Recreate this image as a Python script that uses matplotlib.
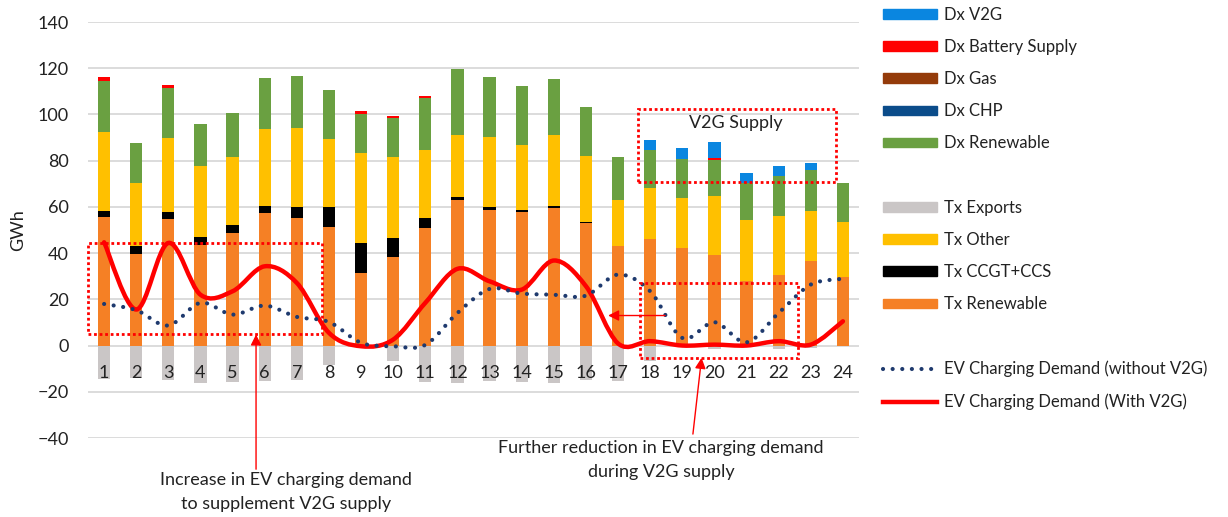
import matplotlib
matplotlib.use("Agg")
import matplotlib.pyplot as plt
from matplotlib.path import Path
from matplotlib.patches import PathPatch, Patch, Rectangle
from matplotlib.lines import Line2D
import numpy as np

plt.rcParams['font.family'] = ['Lato', 'DejaVu Sans']

hours = list(range(1, 25))

tx_renewable = [55.5, 39.7, 54.8, 43.4, 48.9, 57.2, 55.2, 51.5, 31.2, 38.4, 50.9, 62.8,
                58.7, 58.0, 59.4, 53.1, 42.9, 46.0, 42.3, 39.1, 27.8, 30.4, 36.5, 29.6]
tx_ccgt = [2.9, 3.3, 3.0, 3.5, 3.3, 3.4, 4.9, 8.6, 13.1, 8.2, 4.1, 1.4,
           1.3, 0.7, 0.9, 0.3, 0, 0, 0, 0, 0, 0, 0, 0]
tx_other = [33.8, 27.3, 31.9, 30.8, 29.3, 33.3, 33.9, 29.2, 39.2, 34.8, 29.7, 27.1,
            30.3, 27.9, 30.8, 28.8, 20.2, 22.1, 21.6, 25.8, 26.7, 25.6, 21.9, 23.9]
tx_exports = [-14.4, -14.0, -15.0, -16.2, -15.9, -15.2, -14.7, -8.2, 0, -6.8, -15.9, -16.2,
              -15.2, -15.9, -16.2, -14.7, -15.2, -6.5, 0, -1.7, 0, -1.7, -1.2, 0]
dx_renewable = [22.4, 17.4, 21.6, 18.2, 19.3, 22.0, 22.6, 21.3, 16.5, 16.9, 22.4, 28.2,
                25.7, 25.7, 24.4, 21.1, 18.4, 16.6, 16.8, 15.2, 15.9, 17.2, 17.4, 16.8]
dx_chp = [0] * 24
dx_gas = [0] * 24
dx_battery = [1.7, 0, 1.3, 0, 0, 0, 0, 0, 1.4, 1.0, 1.1, 0,
              0, 0, 0, 0, 0, 0, 0, 0.9, 0, 0, 0, 0]
dx_v2g = [0, 0, 0, 0, 0, 0, 0, 0, 0, 0, 0, 0,
          0, 0, 0, 0, 0, 4.3, 5.0, 6.9, 4.1, 4.4, 3.1, 0]

ev_without_v2g = [18.0, 15.3, 8.7, 18.5, 13.4, 17.3, 12.4, 10.2, 1.2, -0.3, 0.3, 14.1,
                  24.5, 22.5, 22.0, 21.6, 30.7, 23.5, 3.3, 10.1, 1.4, 14.1, 26.4, 28.9]
ev_with_v2g = [44.7, 15.6, 44.4, 22.0, 23.5, 34.3, 27.1, 5.5, -0.3, 2.6, 18.5, 33.2,
               27.8, 24.2, 36.8, 25.7, 0.9, 1.9, 0.0, 0.4, 0.0, 1.9, 0.4, 10.5]

c_txren = '#F58025'
c_ccgt = '#000000'
c_other = '#FFC000'
c_exp = '#CAC6C6'
c_dxren = '#6AA041'
c_chp = '#0B4C8A'
c_gas = '#943B0A'
c_bat = '#FF0000'
c_v2g = '#0A86E0'
c_dot = '#1F3A6E'
c_red = '#FF0000'
c_txt = '#222222'


def smooth_path(xs, ys):
    # excel style smoothed line, catmull-rom segments as bezier curves
    pts = list(zip(xs, ys))
    verts = [pts[0]]
    codes = [Path.MOVETO]
    n = len(pts)
    for i in range(n - 1):
        p0 = pts[i - 1] if i > 0 else pts[i]
        p1 = pts[i]
        p2 = pts[i + 1]
        p3 = pts[i + 2] if i + 2 < n else pts[i + 1]
        c1 = (p1[0] + (p2[0] - p0[0]) / 6.0, p1[1] + (p2[1] - p0[1]) / 6.0)
        c2 = (p2[0] - (p3[0] - p1[0]) / 6.0, p2[1] - (p3[1] - p1[1]) / 6.0)
        verts += [c1, c2, p2]
        codes += [Path.CURVE4] * 3
    return Path(verts, codes)


fig = plt.figure(figsize=(12.28, 5.17), dpi=100)
ax = fig.add_axes([0.0717, 0.1528, 0.6278, 0.8046])

w = 0.38
x = np.array(hours)
bottom = np.zeros(24)
for vals, col in [(tx_renewable, c_txren), (tx_ccgt, c_ccgt), (tx_other, c_other),
                  (dx_renewable, c_dxren), (dx_chp, c_chp), (dx_gas, c_gas),
                  (dx_battery, c_bat), (dx_v2g, c_v2g)]:
    ax.bar(x, vals, w, bottom=bottom, color=col, zorder=2)
    bottom = bottom + np.array(vals)
ax.bar(x, tx_exports, w, color=c_exp, zorder=2)

p1 = PathPatch(smooth_path(hours, ev_without_v2g), fill=False, edgecolor=c_dot, lw=3,
               linestyle=(0, (0.01, 2.3)), capstyle='round', zorder=4)
ax.add_patch(p1)
p2 = PathPatch(smooth_path(hours, ev_with_v2g), fill=False, edgecolor=c_red, lw=3.2,
               capstyle='round', zorder=3)
ax.add_patch(p2)

# dotted boxes
for (x0, y0, x1, y1) in [(0.5, 4.8, 7.78, 44.5), (17.61, 70.6, 23.78, 102.5), (17.68, -5.3, 22.59, 27.1)]:
    ax.add_patch(Rectangle((x0, y0), x1 - x0, y1 - y0, fill=False, edgecolor='#FF0000',
                           lw=2, linestyle=(0, (1, 1)), zorder=5, clip_on=False))
ax.text(20.67, 96.5, 'V2G Supply', ha='center', va='center', fontsize=13, color=c_txt)

arr = dict(arrowstyle='-|>', color='#FF0000', lw=1, mutation_scale=16, shrinkA=0, shrinkB=0)
ax.annotate('', xy=(16.69, 13), xytext=(18.46, 13), arrowprops=arr, zorder=6)
ax.annotate('', xy=(5.73, 4.8), xytext=(5.73, -53.5), arrowprops=arr, annotation_clip=False, zorder=6)
ax.annotate('', xy=(19.6, -5.3), xytext=(19.33, -38.3), arrowprops=arr, annotation_clip=False, zorder=6)
ax.text(6.65, -63.4, 'Increase in EV charging demand\nto supplement V2G supply', ha='center', va='center',
        fontsize=13, color=c_txt, linespacing=1.65)
ax.text(18.34, -49.5, 'Further reduction in EV charging demand\nduring V2G supply', ha='center', va='center',
        fontsize=13, color=c_txt, linespacing=1.65)

ax.set_xlim(0.5, 24.5)
ax.set_ylim(-40, 140)
ax.set_yticks(range(-40, 141, 20))
ax.grid(axis='y', color='#D9D9D9', lw=1.3)
ax.set_axisbelow(True)
ax.xaxis.set_zorder(7)
for s in ['top', 'right', 'left']:
    ax.spines[s].set_visible(False)
ax.spines['bottom'].set_position(('data', 0))
ax.spines['bottom'].set_visible(False)
ax.set_xticks(hours)
ax.set_xticklabels([str(h) for h in hours])
ax.tick_params(axis='x', length=0, pad=14, labelsize=13, colors=c_txt)
ax.tick_params(axis='y', length=0, pad=14, labelsize=13, colors=c_txt)
ax.set_ylabel('GWh', fontsize=13, color=c_txt, labelpad=8)

handles = [Patch(color=c_v2g, label='Dx V2G'), Patch(color=c_bat, label='Dx Battery Supply'),
           Patch(color=c_gas, label='Dx Gas'), Patch(color=c_chp, label='Dx CHP'),
           Patch(color=c_dxren, label='Dx Renewable'), Patch(color='none', label=' '),
           Patch(color=c_exp, label='Tx Exports'), Patch(color=c_other, label='Tx Other'),
           Patch(color=c_ccgt, label='Tx CCGT+CCS'), Patch(color=c_txren, label='Tx Renewable'),
           Patch(color='none', label=' '),
           Line2D([], [], color=c_dot, lw=3, linestyle=(0, (0.01, 2.3)), dash_capstyle='round',
                  label='EV Charging Demand (without V2G)'),
           Line2D([], [], color=c_red, lw=3.2, label='EV Charging Demand (With V2G)')]
fig.legend(handles=handles, loc='upper left', bbox_to_anchor=(0.707, 1.016), frameon=False,
           fontsize=12, handlelength=3.2, handleheight=0.5, labelspacing=0.97, handletextpad=0.45,
           labelcolor=c_txt)

plt.savefig('out.png', dpi=100)
